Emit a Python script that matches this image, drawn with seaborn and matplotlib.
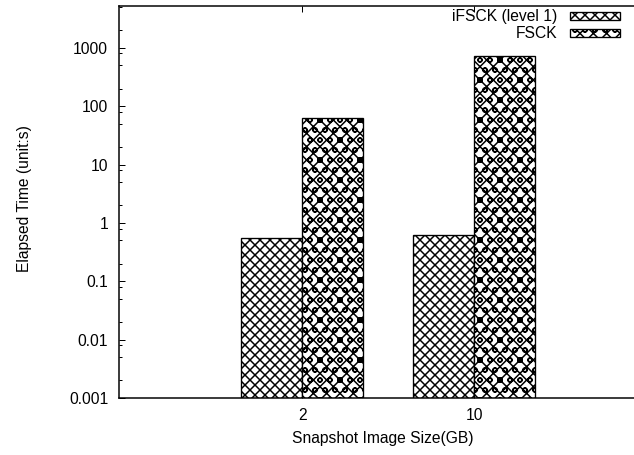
import matplotlib
matplotlib.use("Agg")
import matplotlib.pyplot as plt
import seaborn as sns
import pandas as pd
from matplotlib.patches import Rectangle
from matplotlib.ticker import LogLocator, FixedLocator, FixedFormatter, NullFormatter

# Elapsed check time per snapshot image size
sizes = ["2", "10"]
tools = ["iFSCK (level 1)", "FSCK"]
ifsck_times = [0.55, 0.62]
fsck_times = [63, 730]
ytick_values = [0.001, 0.01, 0.1, 1, 10, 100, 1000]
ytick_labels = ["0.001", "0.01", "0.1", "1", "10", "100", "1000"]
hatches = ["xxxx", "xxxoo"]

df = pd.DataFrame({
    "size": sizes * 2,
    "tool": [tools[0]] * len(sizes) + [tools[1]] * len(sizes),
    "time": ifsck_times + fsck_times,
})

sns.set_theme(style="white")
plt.rcParams["font.family"] = ["Liberation Sans", "DejaVu Sans"]
plt.rcParams["hatch.linewidth"] = 0.9
plt.rcParams["hatch.color"] = "black"

dpi = 120
W, H = 634, 455
fig = plt.figure(figsize=(W / dpi, H / dpi), dpi=dpi)
fig.patch.set_facecolor("white")
left, right, top, bottom = 119, 636, 6, 398
ax = fig.add_axes([left / W, (H - bottom) / H, (right - left) / W, (bottom - top) / H])

sns.barplot(data=df, x="size", y="time", hue="tool", order=sizes, hue_order=tools,
            palette=["white", "white"], saturation=1, width=0.71, gap=0,
            edgecolor="black", linewidth=0.8, ax=ax, legend=False)
ax.set_yscale("log", nonpositive="clip")

for container, h in zip(ax.containers, hatches):
    for bar in container:
        bar.set_hatch(h)

fs = 9.4
ax.set_ylim(0.001, 5200)
ax.set_xlim(-1.064, 1.94)
ax.yaxis.set_major_locator(FixedLocator(ytick_values))
ax.yaxis.set_major_formatter(FixedFormatter(ytick_labels))
ax.yaxis.set_minor_locator(LogLocator(base=10, subs=[2, 5, 8], numticks=20))
ax.yaxis.set_minor_formatter(NullFormatter())

for s in ["left", "bottom", "top", "right"]:
    ax.spines[s].set_visible(True)
    ax.spines[s].set_color("black")
    ax.spines[s].set_linewidth(0.9)

ax.tick_params(axis="both", which="both", direction="in", colors="black",
               labelsize=fs, top=True, right=False, left=True, bottom=True, width=0.6)
ax.tick_params(axis="both", which="major", length=3.6)
ax.tick_params(axis="y", which="minor", length=1.8)
ax.tick_params(axis="y", which="major", pad=6.5)
ax.tick_params(axis="x", which="major", pad=6.0)

ax.set_xlabel("Snapshot Image Size(GB)", fontsize=fs, color="black")
ax.set_ylabel("Elapsed Time (unit:s)", fontsize=fs, color="black")
ax.xaxis.set_label_coords(0.51, -0.083)
ax.yaxis.set_label_coords(-0.168, 0.508)

# Key: right-aligned labels followed by hatched sample boxes
key_rows_y = [16, 33]
for label, h, yc in zip(tools, hatches, key_rows_y):
    fig.text(557 / W, 1 - yc / H, label, ha="right", va="center", fontsize=fs, color="black")
    fig.add_artist(Rectangle((570 / W, 1 - (yc + 4) / H), 50 / W, 8 / H,
                             transform=fig.transFigure, facecolor="white",
                             edgecolor="black", linewidth=0.8, hatch=h))

fig.savefig("out.png", dpi=dpi)
